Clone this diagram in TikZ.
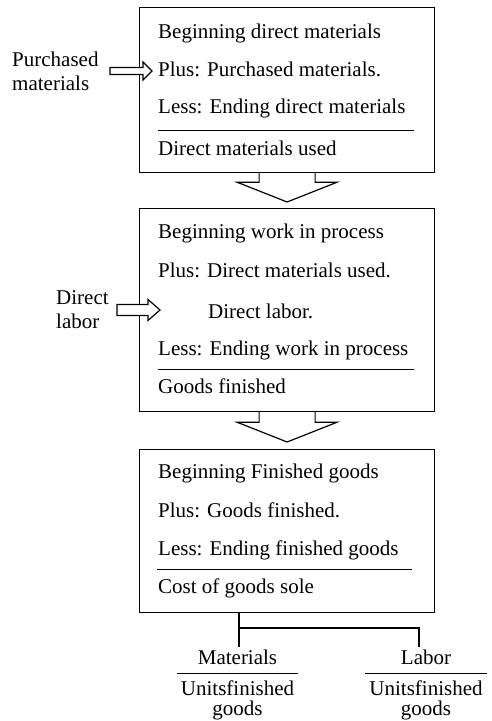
\documentclass[tikz,border=0pt]{standalone}
\usepackage{fontspec}
\setmainfont{Liberation Serif}
\usetikzlibrary{calc}
\begin{document}
\begin{tikzpicture}[x=1pt,y=-1pt,
  stage/.style={draw, line width=1.2pt, minimum width=295pt, anchor=north west, inner sep=0pt},
  entry/.style={anchor=base west, inner sep=0pt, font=\fontsize{21}{24}\selectfont},
  side/.style={anchor=base west, inner sep=0pt, align=left, font=\fontsize{21}{24}\selectfont},
  ratio/.style={anchor=base, inner sep=0pt, align=center, font=\fontsize{21}{20}\selectfont},
  total/.style={line width=1pt},
  bigarrow/.style={draw, line width=1.2pt, line join=miter, fill=white},
  link/.style={line width=1.2pt}]

\useasboundingbox (0,0) rectangle (492,721);

% the three stages
\node[stage, minimum height=165pt] (b1) at (139,7) {};
\node[stage, minimum height=203pt] (b2) at (139,208) {};
\node[stage, minimum height=163pt] (b3) at (139,449) {};

% stage 1: direct materials
\node[entry] (t11) at (158,38)  {Beginning direct materials};
\node[entry] (t12) at (158,76)  {Plus: Purchased materials.};
\node[entry] (t13) at (158,113) {Less: Ending direct materials};
\draw[total] (158,130) -- (414,130);
\node[entry] (t14) at (158,155) {Direct materials used};

% stage 2: work in process
\node[entry] (t21) at (158,238) {Beginning work in process};
\node[entry] (t22) at (158,277) {Plus: Direct materials used.};
\node[entry] (t23) at (208,318) {Direct labor.};
\node[entry] (t24) at (158,355) {Less: Ending work in process};
\draw[total] (158,369) -- (414,369);
\node[entry] (t25) at (158,393) {Goods finished};

% stage 3: finished goods
\node[entry] (t31) at (158,478) {Beginning Finished goods};
\node[entry] (t32) at (158,517) {Plus: Goods finished.};
\node[entry] (t33) at (158,555) {Less: Ending finished goods};
\draw[total] (157,569) -- (412,569);
\node[entry] (t34) at (158,593) {Cost of goods sole};

% inputs from the left (base anchor sits on the last line)
\node[side] (pm) at (12,90) {Purchased\\materials};
\node[side] (dl) at (56,328) {Direct\\labor};
\coordinate (pmtail) at (110,71);
\coordinate (dltail) at (117,310);

\draw[bigarrow] ($(pmtail)+(0,-3.5)$) -- ($(pmtail)+(33,-3.5)$) -- ($(pmtail)+(33,-9)$)
  -- ($(pmtail)+(42,0)$) -- ($(pmtail)+(33,9)$) -- ($(pmtail)+(33,3.5)$)
  -- ($(pmtail)+(0,3.5)$) -- cycle;
\draw[bigarrow] ($(dltail)+(0,-5.5)$) -- ($(dltail)+(31,-5.5)$) -- ($(dltail)+(31,-10.5)$)
  -- ($(dltail)+(43,0)$) -- ($(dltail)+(31,10.5)$) -- ($(dltail)+(31,5.5)$)
  -- ($(dltail)+(0,5.5)$) -- cycle;

% flow between stages
\draw[bigarrow] ($(b1.south)+(-28,0)$) -- ($(b1.south)+(-28,9)$) -- ($(b1.south)+(-50,9)$)
  -- ($(b2.north)+(0,-6)$) -- ($(b1.south)+(50,9)$) -- ($(b1.south)+(28,9)$)
  -- ($(b1.south)+(28,0)$);
\draw[bigarrow] ($(b2.south)+(-28,0)$) -- ($(b2.south)+(-28,10)$) -- ($(b2.south)+(-50,10)$)
  -- ($(b3.north)+(0,-7)$) -- ($(b2.south)+(50,10)$) -- ($(b2.south)+(28,10)$)
  -- ($(b2.south)+(28,0)$);

% unit costs
\node[ratio] (mat) at (237.5,664) {Materials};
\node[ratio] (matd) at (237.5,715) {Unitsfinished\\goods};
\draw[total] (177,673) -- (298,673);
\node[ratio] (lab) at (426,664) {Labor};
\node[ratio] (labd) at (426,715) {Unitsfinished\\goods};
\draw[total] (365,673) -- (487,673);

\coordinate (split) at (239,628);
\coordinate (lbend) at (419,628);
\draw[link] (split |- b3.south) -- (split) -- ([yshift=2pt]split |- mat.north);
\draw[link] (split) -- (lbend) -- ([yshift=2pt]lbend |- lab.north);

\end{tikzpicture}
\end{document}
